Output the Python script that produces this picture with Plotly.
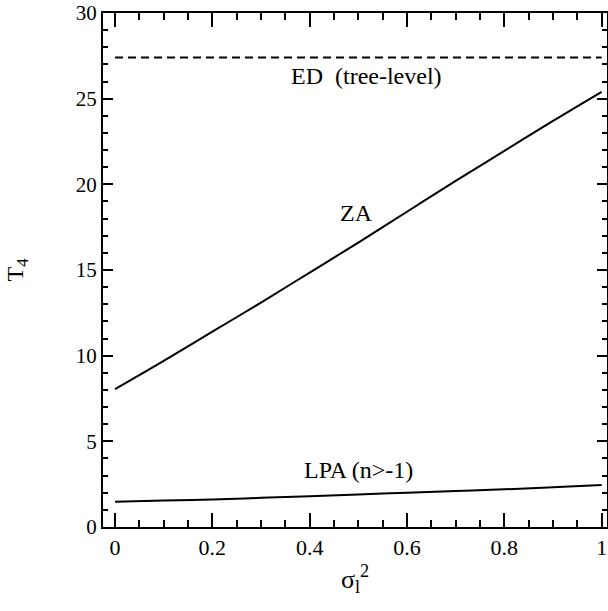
import plotly.graph_objects as go

# Data
x_vals = [0.0, 0.1, 0.2, 0.3, 0.4, 0.5, 0.6, 0.7, 0.8, 0.9, 1.0]
ed_tree = [27.4, 27.4, 27.4, 27.4, 27.4, 27.4, 27.4, 27.4, 27.4, 27.4, 27.4]
za = [8.05, 9.7, 11.4, 13.1, 14.85, 16.6, 18.4, 20.2, 21.95, 23.7, 25.4]
lpa = [1.48, 1.54, 1.6, 1.7, 1.8, 1.9, 2.0, 2.1, 2.2, 2.32, 2.45]

x_ticks = [0, 0.2, 0.4, 0.6, 0.8, 1]
x_ticklabels = ["0", "0.2", "0.4", "0.6", "0.8", "1"]
y_ticks = [0, 5, 10, 15, 20, 25, 30]

labels = ["ED  (tree-level)", "ZA", "LPA (n>-1)"]
label_x = [0.517, 0.497, 0.5]
label_y = [26.35, 18.35, 3.35]

FONT = "Liberation Serif"

fig = go.Figure()
fig.add_trace(go.Scatter(x=x_vals, y=ed_tree, mode="lines",
                         line=dict(color="black", width=2, dash="8px,5px"),
                         showlegend=False))
fig.add_trace(go.Scatter(x=x_vals, y=za, mode="lines", line_shape="spline",
                         line=dict(color="black", width=2), showlegend=False))
fig.add_trace(go.Scatter(x=x_vals, y=lpa, mode="lines", line_shape="spline",
                         line=dict(color="black", width=2), showlegend=False))

for t, xx, yy in zip(labels, label_x, label_y):
    fig.add_annotation(x=xx, y=yy, text=t, showarrow=False,
                       font=dict(family=FONT, size=24, color="black"))

fig.update_layout(
    width=608, height=611,
    margin=dict(l=103, r=1, t=13, b=84),
    paper_bgcolor="white", plot_bgcolor="white",
    font=dict(family=FONT, color="black"),
)
fig.update_xaxes(
    range=[-0.0247, 1.011], automargin=False, ticklabeloverflow="allow",
    tickvals=x_ticks, ticktext=x_ticklabels,
    ticks="inside", ticklen=14, tickwidth=2, tickcolor="black",
    minor=dict(dtick=0.05, ticks="inside", ticklen=7, tickwidth=1.5, tickcolor="black"),
    showline=True, linecolor="black", linewidth=2, mirror="allticks",
    showgrid=False, zeroline=False,
    tickfont=dict(family=FONT, size=22, color="black"),
    title=dict(text="σ<sub>l</sub><sup>2</sup>", font=dict(family=FONT, size=26, color="black"),
               standoff=10),
)
fig.update_yaxes(
    range=[0, 30], automargin=False, ticklabeloverflow="allow",
    tickvals=y_ticks,
    ticks="inside", ticklen=10, tickwidth=2, tickcolor="black",
    minor=dict(dtick=1, ticks="inside", ticklen=5, tickwidth=1.5, tickcolor="black"),
    showline=True, linecolor="black", linewidth=2, mirror="allticks",
    showgrid=False, zeroline=False,
    tickfont=dict(family=FONT, size=21, color="black"),
    title=dict(text="T<sub>4</sub>", font=dict(family=FONT, size=24, color="black"),
               standoff=45),
)

fig.write_html("out.html",
               config={"displayModeBar": False},
               post_script="document.body.style.margin='0';document.body.style.overflow='hidden';")
